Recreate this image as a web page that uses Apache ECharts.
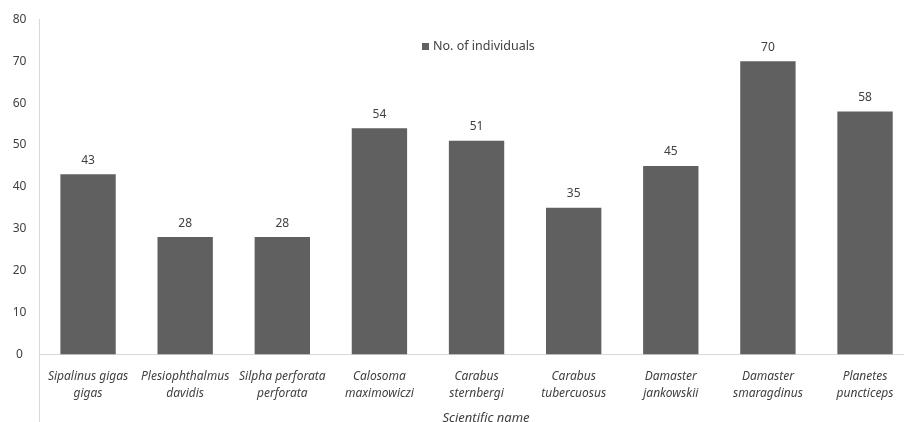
<!DOCTYPE html>
<html><head><meta charset="utf-8">
<script src="https://cdn.jsdelivr.net/npm/echarts@6/dist/echarts.min.js"></script>
<style>html,body{margin:0;padding:0;background:#fff}#c{width:904px;height:422px}</style>
</head><body><div id="c"></div>
<script>
const categories = ["Sipalinus gigas\ngigas", "Plesiophthalmus\ndavidis", "Silpha perforata\nperforata", "Calosoma\nmaximowiczi", "Carabus\nsternbergi", "Carabus\ntubercuosus", "Damaster\njankowskii", "Damaster\nsmaragdinus", "Planetes\npuncticeps"];
const individuals = [43, 28, 28, 54, 51, 35, 45, 70, 58];
const seriesName = "No. of individuals";
const xTitle = "Scientific name";

const font = "'Noto Sans', sans-serif";
const txt = '#404040';
const chart = echarts.init(document.getElementById('c'), null, {renderer: 'canvas'});
chart.setOption({
  animation: false,
  textStyle: {fontFamily: font},
  grid: {left: 39.5, right: -9.6, top: 19.4, bottom: 67.7, containLabel: false, outerBoundsMode: 'none'},
  legend: {
    data: [seriesName], left: 422, top: 40, padding: 0, itemWidth: 7, itemHeight: 7, itemGap: 4,
    icon: 'rect',
    textStyle: {fontFamily: font, fontSize: 12.5, color: txt, padding: [0, 0, 0, -1]}
  },
  xAxis: {
    type: 'category', data: categories,
    name: xTitle, nameLocation: 'middle', nameGap: 57,
    nameTextStyle: {fontFamily: font, fontSize: 13, color: txt, fontStyle: 'italic', padding: [0, 0, 0, 19]},
    axisLine: {lineStyle: {color: '#d9d9d9', width: 1}},
    axisTick: {show: true, length: 68, interval: (i) => i === 0, lineStyle: {color: '#d9d9d9'}},
    axisLabel: {fontFamily: font, fontSize: 12, color: txt, fontStyle: 'italic', lineHeight: 17, margin: 14, interval: 0}
  },
  yAxis: {
    type: 'value', min: 0, max: 80, interval: 10,
    axisLine: {show: true, lineStyle: {color: '#d9d9d9', width: 1}},
    axisTick: {show: false},
    splitLine: {show: false},
    axisLabel: {fontFamily: font, fontSize: 12, color: txt, align: 'center', margin: 20}
  },
  series: [{
    name: seriesName, type: 'bar', data: individuals, barWidth: '57%',
    itemStyle: {color: '#606060'},
    label: {show: true, position: 'top', distance: 8, fontFamily: font, fontSize: 12, color: txt}
  }]
});
</script></body></html>
